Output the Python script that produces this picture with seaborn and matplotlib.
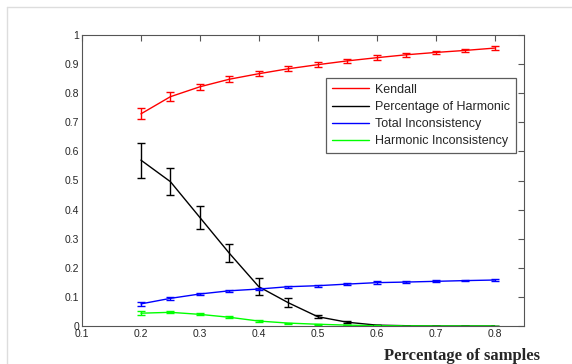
import matplotlib
matplotlib.use("Agg")
import matplotlib.pyplot as plt
import seaborn as sns
import pandas as pd
from matplotlib.lines import Line2D

x = [0.2, 0.25, 0.3, 0.35, 0.4, 0.45, 0.5, 0.55, 0.6, 0.65, 0.7, 0.75, 0.8]
kendall = [0.729, 0.788, 0.822, 0.848, 0.867, 0.884, 0.898, 0.911, 0.922, 0.932, 0.940, 0.947, 0.955]
kendall_err = [0.019, 0.015, 0.011, 0.010, 0.008, 0.008, 0.008, 0.007, 0.008, 0.007, 0.006, 0.005, 0.006]
harmonic = [0.570, 0.496, 0.373, 0.250, 0.135, 0.080, 0.032, 0.013, 0.003, 0.001, 0.0, 0.0, 0.0]
harmonic_err = [0.060, 0.046, 0.038, 0.031, 0.030, 0.016, 0.005, 0.003, 0.001, 0.0005, 0.0, 0.0, 0.0]
total_inc = [0.076, 0.095, 0.110, 0.121, 0.127, 0.135, 0.1385, 0.144, 0.149, 0.151, 0.1535, 0.156, 0.158]
total_err = [0.006, 0.005, 0.005, 0.004, 0.005, 0.004, 0.004, 0.003, 0.004, 0.003, 0.003, 0.002, 0.002]
harm_inc = [0.044, 0.047, 0.040, 0.030, 0.017, 0.010, 0.006, 0.003, 0.001, 0.0005, 0.0, 0.0, 0.0]
harm_inc_err = [0.006, 0.004, 0.003, 0.003, 0.002, 0.002, 0.001, 0.001, 0.001, 0.0, 0.0, 0.0, 0.0]

labels = ["Kendall", "Percentage of Harmonic", "Total Inconsistency", "Harmonic Inconsistency"]
colors = ["#ff0000", "#000000", "#0000ff", "#00ff00"]
series = [kendall, harmonic, total_inc, harm_inc]
errs = [kendall_err, harmonic_err, total_err, harm_inc_err]

rows = []
for lab, vals in zip(labels, series):
    for xi, v in zip(x, vals):
        rows.append({"x": xi, "y": v, "series": lab})
df = pd.DataFrame(rows)

sns.set_style("white")
plt.rcParams["font.family"] = ["Liberation Sans", "DejaVu Sans"]

fig = plt.figure(figsize=(5.72, 3.64), dpi=100)
ax = fig.add_axes([82/572, 1-326/364, (524-82)/572, (326-35)/364])

sns.lineplot(data=df, x="x", y="y", hue="series", hue_order=labels,
             palette=colors, ax=ax, linewidth=1.0, legend=True)
for vals, e, c in zip(series, errs, colors):
    ax.errorbar(x, vals, yerr=e, fmt="none", ecolor=c, elinewidth=1.0,
                capsize=3, capthick=1.0)

ax.set_xlim(0.1, 0.85)
ax.set_ylim(0, 1)
ax.set_xticks([0.1, 0.2, 0.3, 0.4, 0.5, 0.6, 0.7, 0.8])
ax.set_xticklabels(["0.1", "0.2", "0.3", "0.4", "0.5", "0.6", "0.7", "0.8"])
ax.set_yticks([0, 0.1, 0.2, 0.3, 0.4, 0.5, 0.6, 0.7, 0.8, 0.9, 1])
ax.set_yticklabels(["0", "0.1", "0.2", "0.3", "0.4", "0.5", "0.6", "0.7", "0.8", "0.9", "1"])
ax.tick_params(direction="in", top=True, right=True, labelsize=7.5,
               length=4, width=0.8, color="#555555", pad=2)
for s in ax.spines.values():
    s.set_color("#555555")
    s.set_linewidth(0.8)
ax.set_xlabel("")
ax.set_ylabel("")

leg = ax.legend(loc="upper right", bbox_to_anchor=(0.982, 0.852), fontsize=9,
                frameon=True, fancybox=False, edgecolor="#333333",
                handlelength=3.0, borderpad=0.45, labelspacing=0.42,
                handletextpad=0.5, borderaxespad=0)
leg.get_frame().set_linewidth(0.9)

fig.text(462/572, 1-356/364, "Percentage of samples", ha="center", va="center",
         fontsize=12, fontweight="bold", family=["Liberation Serif", "DejaVu Serif"])

fig.add_artist(Line2D([7/572, 7/572], [0, 1-7/364], transform=fig.transFigure,
                      color="#dddddd", linewidth=1.0))
fig.add_artist(Line2D([7/572, 1], [1-7/364, 1-7/364], transform=fig.transFigure,
                      color="#dddddd", linewidth=1.0))

fig.savefig("out.png", dpi=100)
